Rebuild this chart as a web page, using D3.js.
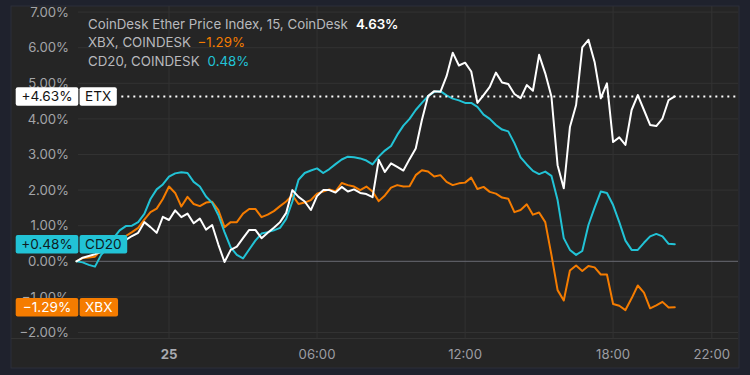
<!DOCTYPE html>
<html>
<head>
<meta charset="utf-8">
<script src="https://cdn.jsdelivr.net/npm/d3@7"></script>
<style>
  html, body { margin: 0; padding: 0; background: #1f222d; }
  svg { display: block; }
  text { font-family: Inter, "Liberation Sans", sans-serif; }
</style>
</head>
<body>
<svg id="chart" width="750" height="375"></svg>
<script>
// ---- data (percent change, 15-minute steps starting 24th 20:15) ----
const etxValues = [0.0,0.1,0.15,0.2,0.26,0.32,0.4,0.5,0.6,0.71,0.8,1.1,0.96,0.8,1.25,1.16,1.43,1.24,1.34,1.07,
  1.2,0.89,1.02,0.47,-0.02,0.32,0.41,0.65,0.88,0.88,0.65,0.8,0.94,1.1,1.36,2.0,1.81,1.68,1.44,1.83,
  2.0,2.0,1.93,2.09,1.96,2.02,1.92,1.89,1.8,2.85,2.51,2.75,2.65,2.55,2.87,3.17,3.97,4.64,4.78,4.76,
  5.2,5.86,5.5,5.58,5.33,4.45,4.67,4.9,5.3,5.02,4.98,4.7,4.58,4.95,4.79,5.8,5.28,4.63,2.7,2.05,
  3.77,4.39,6.01,6.22,5.6,4.58,5.0,3.35,3.48,3.27,4.25,4.67,4.25,3.83,3.8,4.01,4.53,4.63];
const cd20Values = [0.0,-0.03,-0.1,-0.15,0.18,0.37,0.65,0.87,0.99,1.0,1.1,1.33,1.75,2.02,2.16,2.38,2.47,2.5,2.48,2.23,
  2.1,1.82,1.64,1.3,0.82,0.39,0.18,0.08,0.33,0.58,0.78,0.82,0.87,0.94,1.19,1.68,2.29,2.48,2.55,2.61,
  2.48,2.59,2.73,2.86,2.94,2.92,2.89,2.83,2.72,2.94,3.11,3.24,3.55,3.81,4.0,4.25,4.45,4.64,4.76,4.78,
  4.66,4.57,4.52,4.45,4.45,4.34,4.12,4.0,3.83,3.7,3.65,3.32,2.92,2.72,2.54,2.45,2.52,2.4,1.72,0.65,
  0.32,0.18,0.29,1.02,1.51,1.96,1.92,1.58,1.1,0.58,0.32,0.32,0.52,0.7,0.77,0.7,0.49,0.48];
const xbxValues = [0.0,0.09,0.11,0.13,0.32,0.43,0.51,0.6,0.71,0.82,0.94,1.17,1.38,1.48,1.75,2.1,1.92,1.54,1.81,1.61,
  1.55,1.65,1.67,1.44,0.96,1.1,1.1,1.34,1.47,1.47,1.24,1.31,1.41,1.55,1.68,1.86,1.61,1.65,1.72,1.9,
  1.96,2.02,1.96,2.2,2.14,2.1,2.0,2.1,1.96,1.69,1.85,2.07,2.14,2.1,2.11,2.42,2.56,2.52,2.38,2.42,
  2.23,2.14,2.19,2.21,2.35,2.03,2.09,1.95,1.9,1.79,1.76,1.38,1.44,1.6,1.31,1.37,1.1,0.18,-0.81,-1.1,
  -0.26,-0.12,-0.27,-0.13,-0.17,-0.37,-0.37,-1.2,-1.25,-1.37,-1.04,-0.68,-0.88,-1.32,-1.24,-1.14,-1.3,-1.29];

const seriesNames = ["ETX", "XBX", "CD20"];
const legendTitles = ["CoinDesk Ether Price Index, 15, CoinDesk", "XBX, COINDESK", "CD20, COINDESK"];
const lastValues = [4.63, -1.29, 0.48];
const seriesColors = ["#ffffff", "#f57c00", "#22c3d6"];

const yTickValues = [-2, -1, 0, 1, 2, 3, 4, 5, 6, 7];
const xTickHours = [0, 6, 12, 18, 22];
const xTickLabels = ["25", "06:00", "12:00", "18:00", "22:00"];

const startTime = new Date(2021, 0, 24, 20, 15);
const day25 = new Date(2021, 0, 25, 0, 0);

// ---- layout ----
const svg = d3.select("#chart");
const panel = {x: 11, y: 6, w: 728, h: 362};
const plot = {left: 78, right: 738, top: 6, bottom: 338};

const x = d3.scaleTime()
  .domain([day25, d3.timeHour.offset(day25, 22)])
  .range([169, 711.8]);
const y = d3.scaleLinear().domain([-2, 7]).range([332.5, 12.1]);

const fmtPct = v => (v < 0 ? "\u2212" : "") + Math.abs(v).toFixed(2) + "%";
const fmtSigned = v => (v < 0 ? "\u2212" : "+") + Math.abs(v).toFixed(2) + "%";

svg.append("rect").attr("x", panel.x).attr("y", panel.y).attr("width", panel.w).attr("height", panel.h)
  .attr("fill", "#252525").attr("stroke", "#2c2f3a").attr("stroke-width", 1);

// horizontal grid
svg.append("g").selectAll("line").data(yTickValues.filter(v => v !== 0)).join("line")
  .attr("x1", plot.left).attr("x2", plot.right)
  .attr("y1", d => y(d)).attr("y2", d => y(d))
  .attr("stroke", "#323232").attr("stroke-width", 1);

// vertical grid
const xTickDates = xTickHours.map(h => d3.timeHour.offset(day25, h));
svg.append("g").selectAll("line").data(xTickDates).join("line")
  .attr("x1", d => x(d)).attr("x2", d => x(d))
  .attr("y1", plot.top).attr("y2", plot.bottom)
  .attr("stroke", "#323232").attr("stroke-width", 1);

// zero line
svg.append("line").attr("x1", plot.left).attr("x2", plot.right)
  .attr("y1", y(0)).attr("y2", y(0))
  .attr("stroke", "#6a6b74").attr("stroke-width", 1);

// x-axis separator
svg.append("line").attr("x1", panel.x).attr("x2", plot.right)
  .attr("y1", plot.bottom + 0.5).attr("y2", plot.bottom + 0.5)
  .attr("stroke", "#333333").attr("stroke-width", 1);

// y labels
svg.append("g").selectAll("text").data(yTickValues).join("text")
  .attr("x", 69).attr("y", d => y(d)).attr("dy", "0.36em")
  .attr("text-anchor", "end").attr("font-size", 13.2).attr("fill", "#a3a4a8")
  .text(d => fmtPct(d));

// x labels
svg.append("g").selectAll("text").data(xTickDates).join("text")
  .attr("x", d => x(d)).attr("y", 354).attr("dy", "0.36em")
  .attr("text-anchor", "middle").attr("font-size", 13.2)
  .attr("font-weight", (d, i) => i === 0 ? 700 : 400)
  .attr("fill", (d, i) => i === 0 ? "#a9aab0" : "#9c9da3")
  .text((d, i) => xTickLabels[i]);

// lines
const allValues = [etxValues, xbxValues, cd20Values];
const line = d3.line()
  .x((d, i) => x(d3.timeMinute.offset(startTime, 15 * i)))
  .y(d => y(d));

// price labels (boxes) on left
function priceLabel(value, name, bg, fg) {
  const g = svg.append("g");
  const cy = y(value);
  const h = 18.4;
  g.append("rect").attr("x", 15.7).attr("y", cy - h / 2).attr("width", 62.6).attr("height", h)
    .attr("rx", 2).attr("fill", bg);
  g.append("text").attr("x", 47).attr("y", cy).attr("dy", "0.36em").attr("text-anchor", "middle")
    .attr("font-size", 13.6).attr("fill", fg).text(fmtSigned(value));
  const t = g.append("text").attr("x", 85).attr("y", cy).attr("dy", "0.36em")
    .attr("font-size", 13.6).attr("fill", fg).text(name);
  const w = t.node().getComputedTextLength();
  g.insert("rect", "text:last-of-type").attr("x", 79.6).attr("y", cy - h / 2).attr("width", w + 11)
    .attr("height", h).attr("rx", 2).attr("fill", bg);
  return 79.6 + w + 11;
}

// draw order: orange, cyan, white
[1, 2, 0].forEach(k => {
  svg.append("path").datum(allValues[k]).attr("d", line)
    .attr("fill", "none").attr("stroke", seriesColors[k]).attr("stroke-width", 2)
    .attr("stroke-linejoin", "round").attr("stroke-linecap", "round");
});

const etxEnd = priceLabel(lastValues[0], seriesNames[0], "#ffffff", "#131313");
priceLabel(lastValues[2], seriesNames[2], seriesColors[2], "#0f1d24");
priceLabel(lastValues[1], seriesNames[1], seriesColors[1], "#ffffff");

// dotted last-value line for ETX
svg.append("line").attr("x1", etxEnd + 4.5).attr("x2", plot.right)
  .attr("y1", y(lastValues[0])).attr("y2", y(lastValues[0]))
  .attr("stroke", "#ffffff").attr("stroke-width", 2).attr("stroke-dasharray", "2,4");

// legend
const legendY = [24, 42.5, 61];
const valueColors = ["#ffffff", seriesColors[1], seriesColors[2]];
legendTitles.forEach((title, i) => {
  const t = svg.append("text").attr("x", 88).attr("y", legendY[i]).attr("dy", "0.36em")
    .attr("font-size", 13.3);
  t.append("tspan").attr("fill", "#b8b9bd").text(title);
  t.append("tspan").attr("dx", 8).attr("fill", valueColors[i])
    .attr("font-weight", i === 0 ? 600 : 400).text(fmtPct(lastValues[i]));
});
</script>
</body>
</html>
